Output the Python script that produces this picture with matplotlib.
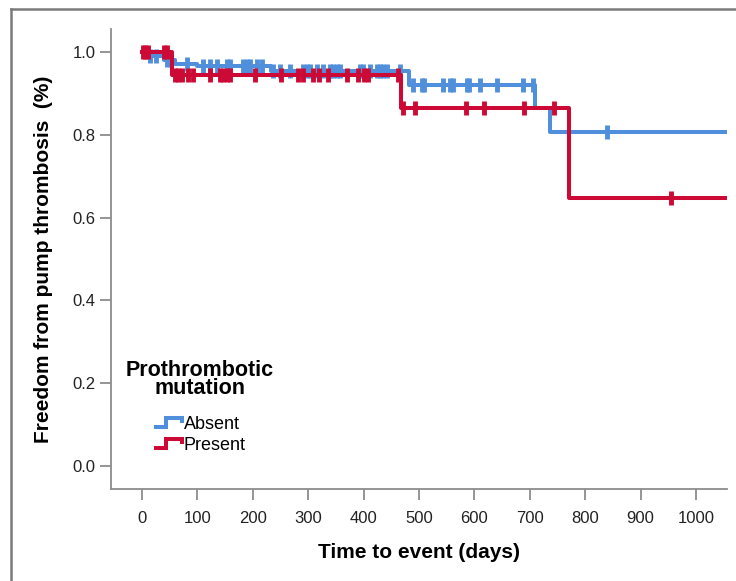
import numpy as np
import matplotlib
matplotlib.use("Agg")
import matplotlib.pyplot as plt
from matplotlib.lines import Line2D
from matplotlib.legend_handler import HandlerBase

plt.rcParams['font.family'] = ['Liberation Sans', 'DejaVu Sans']

# Kaplan-Meier steps (time in days, survival fraction)
absent_times = [0, 10, 40, 60, 100, 232, 482, 709, 736, 1100]
absent_surv = [1.0, 0.99, 0.98, 0.972, 0.967, 0.955, 0.921, 0.866, 0.806, 0.806]
absent_censor = [15, 25, 45, 52, 81, 110, 123, 135, 153, 159, 182, 189, 195, 208, 217,
                 237, 249, 267, 291, 298, 303, 316, 327, 339, 345, 352, 357, 394, 399,
                 412, 424, 430, 435, 442, 466, 489, 505, 509, 543, 556, 562, 587, 590,
                 610, 641, 688, 706, 839]

present_times = [0, 55, 467, 771, 1100]
present_surv = [1.0, 0.944, 0.865, 0.648, 0.648]
present_censor = [2, 5, 10, 40, 45, 60, 65, 72, 83, 92, 123, 141, 146, 153, 159, 204,
                  250, 282, 290, 309, 320, 336, 370, 390, 400, 408, 462, 472, 493, 585,
                  617, 690, 743, 955]

blue = '#4f8fdc'
red = '#cc0a35'
grey = '#8c8c8c'


def surv_at(times, surv, t):
    i = np.searchsorted(times, t, side='right') - 1
    return np.array(surv)[i]


class StepHandler(HandlerBase):
    def create_artists(self, legend, orig_handle, xdescent, ydescent, width, height, fontsize, trans):
        xs = np.array([0, 0.42, 0.42, 1.0, 1.0]) * width - xdescent
        ys = np.array([0.15, 0.15, 0.85, 0.85, 0.45]) * height - ydescent
        ln = Line2D(xs, ys, color=orig_handle.get_color(), lw=orig_handle.get_linewidth(),
                    solid_joinstyle='miter', solid_capstyle='butt', transform=trans)
        return [ln]


fig = plt.figure(figsize=(7.36, 5.81), dpi=100)
ax = fig.add_axes([111 / 736, 1 - 489 / 581, 616 / 736, 460 / 581])

l1, = ax.step(absent_times, absent_surv, where='post', color=blue, lw=2.9, zorder=3, label='Absent')
l2, = ax.step(present_times, present_surv, where='post', color=red, lw=2.9, zorder=4, label='Present')
ax.plot(absent_censor, surv_at(absent_times, absent_surv, absent_censor), ls='none',
        marker='|', ms=10, mew=3.5, color=blue, zorder=3)
ax.plot(present_censor, surv_at(present_times, present_surv, present_censor), ls='none',
        marker='|', ms=10, mew=3.5, color=red, zorder=4)

ax.set_xlim(-56, 1056)
ax.set_ylim(-0.056, 1.056)
ax.set_xticks(range(0, 1001, 100))
ax.set_yticks([0.0, 0.2, 0.4, 0.6, 0.8, 1.0])
ax.set_yticklabels(['0.0', '0.2', '0.4', '0.6', '0.8', '1.0'])

for s in ['top', 'right']:
    ax.spines[s].set_visible(False)
for s in ['left', 'bottom']:
    ax.spines[s].set_color(grey)
    ax.spines[s].set_linewidth(1.3)
ax.tick_params(axis='both', length=8, width=1.3, color=grey, labelsize=12, labelcolor='#222222')
ax.tick_params(axis='x', pad=8)
ax.tick_params(axis='y', pad=3)

ax.set_xlabel('Time to event (days)', fontsize=15, fontweight='bold', labelpad=12)
ax.set_ylabel('Freedom from pump thrombosis  (%)', fontsize=15, fontweight='bold', labelpad=14)

leg = ax.legend(handles=[l1, l2], title='Prothrombotic\nmutation', loc='upper center',
                bbox_to_anchor=(200 / 736, 1 - 351 / 581), bbox_transform=fig.transFigure,
                frameon=False, fontsize=13, handler_map={Line2D: StepHandler()},
                handlelength=1.55, handletextpad=0.1, labelspacing=0.22, borderpad=0,
                title_fontproperties={'weight': 'bold', 'size': 15.5})
leg.get_title().set_linespacing(0.82)
leg.get_title().set_multialignment('center')
leg._legend_box.sep = 12

# outer frame of the panel
fig.add_artist(Line2D([11 / 736, 11 / 736], [0, 1 - 9 / 581], color='#7a7a7a', lw=1.8))
fig.add_artist(Line2D([11 / 736, 1], [1 - 9 / 581, 1 - 9 / 581], color='#7a7a7a', lw=1.8))

fig.savefig('out.png', dpi=100)
